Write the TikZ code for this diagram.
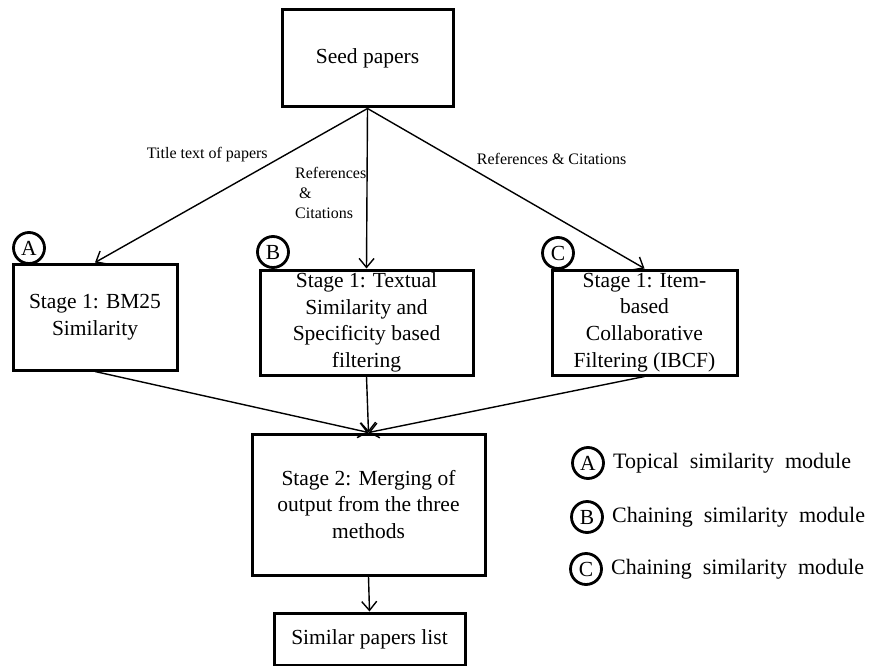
\documentclass[tikz,border=0pt]{standalone}
\usepackage{fontspec}
\setmainfont{Liberation Serif}
\usetikzlibrary{arrows.meta, positioning}

\begin{document}
\begin{tikzpicture}[x=1pt, y=-1pt,
    box/.style={draw, line width=3pt, align=center, inner xsep=2pt, inner ysep=0pt, font=\fontsize{21.5}{26.7}\selectfont},
    badge/.style={draw, circle, line width=2.8pt, minimum size=31pt, inner sep=0pt, font=\fontsize{21.5}{21.5}\selectfont},
    flow/.style={-{Straight Barb[length=9pt, width=15pt]}, line width=1.4pt},
    edgelabel/.style={font=\fontsize{16}{20}\selectfont, inner sep=1pt},
    legtext/.style={font=\fontsize{22}{26}\selectfont, inner sep=1pt, anchor=west}
]
    \useasboundingbox (0,0) rectangle (872,666);

    \node (seed) [box, minimum width=171pt, minimum height=97pt] at (367.5,58.5) {Seed papers};

    \node (bm25) [box, minimum width=164pt, minimum height=106pt] at (95,317) {Stage 1: BM25\\Similarity};
    \node (textual) [box, minimum width=213pt, minimum height=105pt] at (366.5,322.5) {Stage 1: Textual\\Similarity and\\Specificity based\\filtering};
    \node (ibcf) [box, minimum width=185pt, minimum height=105pt] at (644.5,322.5) {Stage 1: Item-\\based\\Collaborative\\Filtering (IBCF)};

    \node (merge) [box, minimum width=233pt, minimum height=141pt] at (368.5,504.5) {Stage 2: Merging of\\output from the three\\methods};
    \node (result) [box, minimum width=191pt, minimum height=52pt] at (369.5,639) {Similar papers list};

    \node (cA) [badge] at (29,248) {A};
    \node (cB) [badge] at (273,252) {B};
    \node (cC) [badge] at (558,253) {C};

    \draw [flow] (seed.south) -- node[edgelabel, pos=0.36, anchor=south east] {Title text of papers} (bm25.north);
    \draw [flow] (seed.south) -- node[edgelabel, pos=0.53, anchor=east, align=left, inner sep=0pt] {References\\\hspace*{4pt}\&\\Citations} (textual.north);
    \draw [flow] (seed.south) -- node[edgelabel, pos=0.36, anchor=south west, xshift=8pt] {References \& Citations} (ibcf.north);

    \draw [flow] (bm25.south) -- (merge.north);
    \draw [flow] (textual.south) -- (merge.north);
    \draw [flow] (ibcf.south) -- (merge.north);
    \draw [flow] (merge.south) -- (result.north);

    \node (lA) [badge] at (588,463) {A};
    \node (lB) [badge] at (587,517) {B};
    \node (lC) [badge] at (586,569) {C};
    \node (tA) [legtext, right=7pt of lA] {Topical\ \ similarity\ \ module};
    \node (tB) [legtext, right=7pt of lB] {Chaining\ \ similarity\ \ module};
    \node (tC) [legtext, right=7pt of lC] {Chaining\ \ similarity\ \ module};
\end{tikzpicture}
\end{document}
